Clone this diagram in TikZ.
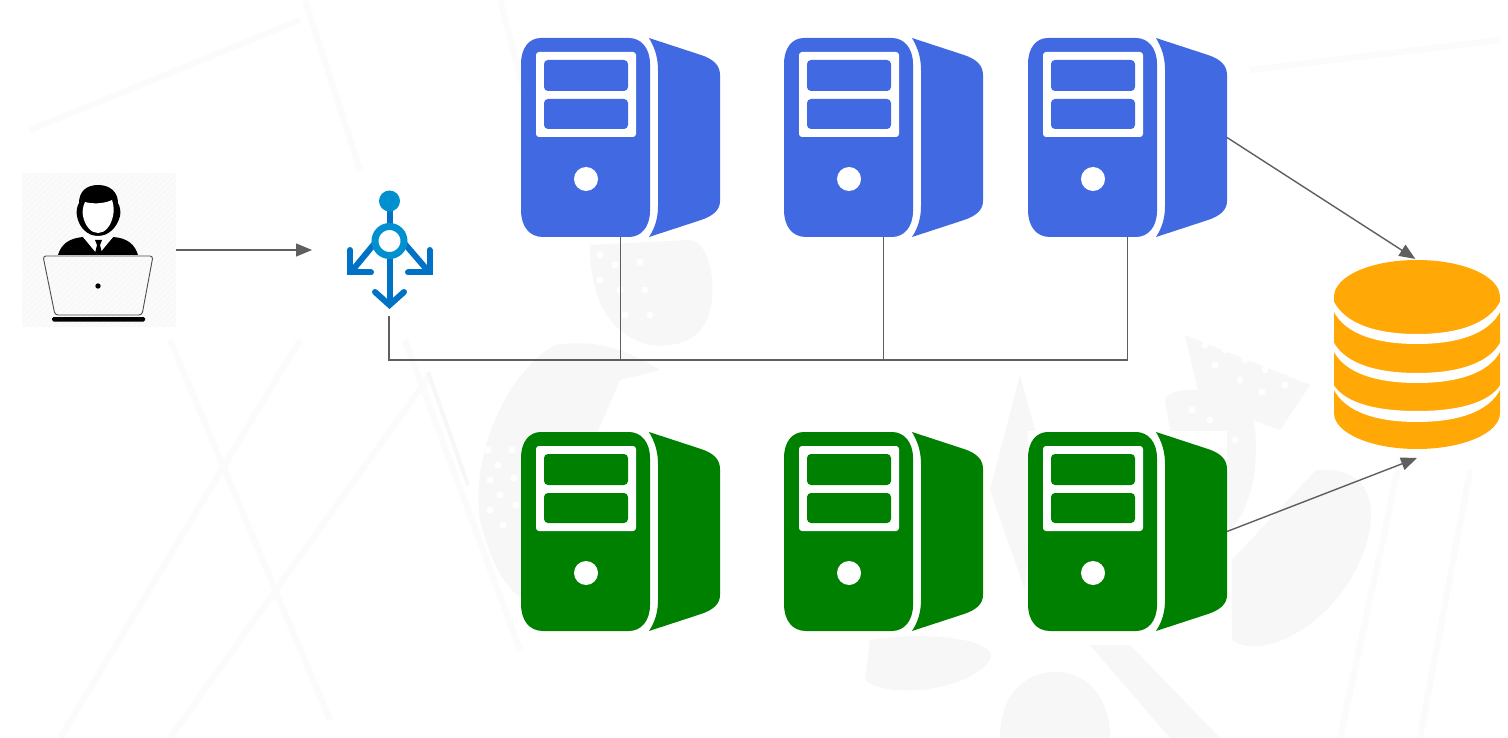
\documentclass[tikz,border=0pt]{standalone}
\usetikzlibrary{arrows.meta}
\definecolor{srvblue}{HTML}{4169E1}
\definecolor{srvgreen}{HTML}{008000}
\definecolor{dbor}{HTML}{FFA806}
\definecolor{wire}{HTML}{5F5F5F}
\definecolor{lbdark}{HTML}{0072C6}
\definecolor{lblight}{HTML}{0090D0}
\definecolor{ghost}{HTML}{F7F7F7}
\definecolor{ghostb}{HTML}{FBFBFB}
\tikzset{
  srvbox/.style={minimum width=199pt,minimum height=199pt,inner sep=0pt,outer sep=0pt},
  pics/server/.style={code={
    \fill[#1] (20,0) -- (108,0) .. controls (120,0) and (129,10) .. (129,26)
      -- (129,173) .. controls (129,189) and (120,199) .. (108,199) -- (22,199)
      .. controls (8,199) and (0,188) .. (0,172) -- (0,26) .. controls (0,10) and (8,0) .. (20,0) -- cycle;
    \fill[#1] (128,0) -- (180,17) .. controls (192,21) and (199,27) .. (199,37)
      -- (199,163) .. controls (199,172) and (192,178) .. (180,182) -- (128,199)
      .. controls (134,190) and (137,180) .. (137,168) -- (137,32)
      .. controls (137,20) and (134,10) .. (128,0) -- cycle;
    \fill[white,rounded corners=3pt] (15,14) rectangle (115,99);
    \fill[#1,rounded corners=4pt] (23,22) rectangle (107,53);
    \fill[#1,rounded corners=4pt] (23,61) rectangle (107,91);
    \fill[white] (65,141) circle (12pt);
  }},
  conn/.style={draw=wire,line width=1.4pt,-{Triangle[length=16pt,width=13pt]}},
  wirev/.style={draw=wire,line width=1.5pt},
  wireb/.style={draw=wire,line width=2.4pt},
  ghostl/.style={draw=ghostb,line width=6pt},
  ghostd/.style={fill=ghost},
}
\begin{document}
\begin{tikzpicture}[x=1pt,y=-1pt]
\useasboundingbox (0,0) rectangle (1508,738);
\fill[white] (0,0) rectangle (1508,738);
% faint watermark
\draw[ghostl] (305,0) -- (360,170);
\draw[ghostl] (405,340) -- (520,650);
\draw[ghostl] (170,340) -- (330,720);
\draw[ghostl] (300,340) -- (60,738);
\draw[ghostl] (430,375) -- (170,738);
\draw[ghostl] (30,130) -- (300,20);
\draw[ghostl] (500,0) -- (545,170);
\draw[ghostl] (1250,70) -- (1500,40);
\draw[ghostl] (1400,460) -- (1340,738);
\draw[ghostl] (1470,470) -- (1420,738);
\draw[ghost,line width=4pt] (428,372) -- (468,485);
\fill[ghostd] (555,345) .. controls (510,370) and (470,450) .. (480,520) .. controls (490,560) and (505,590) .. (525,600) -- (620,380) -- (660,370) .. controls (620,345) and (590,340) .. (555,345) -- cycle;
\fill[ghostd] (590,245) .. controls (590,300) and (610,335) .. (650,345) .. controls (700,350) and (715,320) .. (712,280) .. controls (710,255) and (700,240) .. (690,240) -- cycle;
\fill[ghostd] (1165,400) .. controls (1170,385) and (1220,385) .. (1250,410) .. controls (1260,430) and (1260,500) .. (1230,530) -- (1170,430) -- cycle;
\fill[ghostd] (1185,335) -- (1310,385) -- (1280,430) -- (1200,400) -- cycle;
\fill[ghostd] (1020,375) -- (1035,430) -- (1025,590) -- (990,490) -- cycle;
\fill[ghostd] (1316,470) .. controls (1385,465) and (1380,530) .. (1350,580) .. controls (1320,630) and (1260,660) .. (1232,640) -- (1232,560) -- cycle;
\fill[ghostd] (1000,738) .. controls (1000,690) and (1030,670) .. (1060,672) .. controls (1090,675) and (1110,700) .. (1110,738) -- cycle;
\fill[ghostd] (1090,645) -- (1130,645) -- (1220,738) -- (1170,738) -- cycle;
\fill[ghostd] (870,640) .. controls (930,630) and (1000,640) .. (990,660) .. controls (970,690) and (890,700) .. (865,680) -- cycle;
\foreach \px/\py in {488/450,498/465,490/480,500/495,490/510,503/525,512/450,514/478,516/505,600/255,615/265,600/280,620/290,640/262,645/290,625/315,650/315,1205/345,1225/350,1245/360,1265/370,1285/385,1215/365,1240/380,1262/392,1192/410,1210/420,1205/445,1225/470,1215/500,1235/440}{
  \fill[white] (\px,\py) circle (3.5pt);
}
% white patch behind the last green server
\fill[white] (1028,431) rectangle (1227,631);
% user
\node[minimum width=154pt,minimum height=154pt,inner sep=0pt,outer sep=0pt,fill=ghostb] (user) at (99,250) {};
\begin{scope}
\clip (user.north west) rectangle (user.south east);
\foreach \k in {0,6,...,320}{\draw[ghost,line width=1pt] (22+\k-160,327) -- (22+\k,173);}
\end{scope}
\fill[black] (98,185) .. controls (110,185) and (118,192) .. (118,203) .. controls (120,206) and (121,212) .. (120,216) .. controls (117,228) and (108,236) .. (98,236) .. controls (88,236) and (79,228) .. (77,216) .. controls (76,212) and (77,206) .. (79,203) .. controls (79,192) and (86,185) .. (98,185) -- cycle;
\fill[white] (85,202) .. controls (92,204) and (104,204) .. (112,200) .. controls (114,205) and (114,212) .. (113,216) .. controls (111,226) and (105,233) .. (98,233) .. controls (91,233) and (85,226) .. (83,216) .. controls (82,212) and (83,206) .. (85,202) -- cycle;
\fill[black] (58,255) .. controls (61,245) and (68,238) .. (84,237) -- (98,253) -- (113,237) .. controls (128,238) and (135,245) .. (138,255) -- cycle;
\fill[white] (83,237) -- (91,236) -- (105,236) -- (113,237) -- (99,254) -- (97,254) -- cycle;
\fill[black] (95,240) -- (102,240) -- (100,245) -- (102,253) -- (99,255) -- (95,253) -- (97,245) -- cycle;
\draw[black!70,line width=.9pt,rounded corners=3pt] (43,256) -- (153,256) -- (142,315) -- (55,315) -- cycle;
\fill[black,rounded corners=1.5pt] (52,317) rectangle (145,321.5);
\fill[black] (98,286) circle (2.7pt);
% load balancer
\node[minimum width=154pt,minimum height=132pt,inner sep=0pt,outer sep=0pt] (lb) at (389,250) {};
\begin{scope}[line cap=round,draw=lbdark,line width=6pt]
\draw[line cap=butt] (389.5,205) -- (389.5,304);
\draw[line join=miter,line cap=round] (375,292) -- (389.5,305) -- (404,292);
\draw[line cap=butt] (375,243) -- (351,272);
\draw[line cap=butt] (404,243) -- (429,272);
\draw[line join=miter] (350,250) -- (350,272.5) -- (371,272.5);
\draw[line join=miter] (429.5,250) -- (429.5,272.5) -- (408,272.5);
\end{scope}
\fill[lblight] (389.5,201) circle (10.5pt);
\fill[white] (389.5,241) circle (14pt);
\draw[lblight,line width=7pt] (389.5,241) circle (14.5pt);
% servers
\node[srvbox] (s1) at (620.5,137.5) {};
\node[srvbox] (s2) at (883.5,137.5) {};
\node[srvbox] (s3) at (1127.5,137.5) {};
\node[srvbox] (g1) at (620.5,531.5) {};
\node[srvbox] (g2) at (883.5,531.5) {};
\node[srvbox] (g3) at (1127.5,531.5) {};
\pic at (s1.north west) {server=srvblue};
\pic at (s2.north west) {server=srvblue};
\pic at (s3.north west) {server=srvblue};
\pic at (g1.north west) {server=srvgreen};
\pic at (g2.north west) {server=srvgreen};
\pic at (g3.north west) {server=srvgreen};
% database
\node[minimum width=166pt,minimum height=198pt,inner sep=0pt,outer sep=0pt] (db) at (1417,359) {};
\fill[dbor] (1334,297) .. controls (1334,276) and (1371,260) .. (1417,260) .. controls (1463,260) and (1500,276) .. (1500,297) -- (1500,413) .. controls (1500,433) and (1463,449) .. (1417,449) .. controls (1371,449) and (1334,433) .. (1334,413) -- cycle;
\foreach \ya/\yb/\da/\db in {300/310/34/34,341/350/32/33,384/388/27/34}{
  \fill[white] (1333,\ya) .. controls (1345,\ya+0.75*\da) and (1380,\ya+\da) .. (1417,\ya+\da) .. controls (1454,\ya+\da) and (1489,\ya+0.75*\da) .. (1501,\ya)
    -- (1501,\yb) .. controls (1489,\yb+0.75*\db) and (1454,\yb+\db) .. (1417,\yb+\db) .. controls (1380,\yb+\db) and (1345,\yb+0.75*\db) .. (1333,\yb) -- cycle;
}
% connectors
\coordinate (busend) at (1127.5,360);
\draw[wireb] (lb.south) |- (busend);
\draw[wirev] (s1.south) -- (s1.south |- busend);
\draw[wirev] (s2.south) -- (s2.south |- busend);
\draw[wirev] (s3.south) -- (busend);
\draw[conn] (user.east) -- (lb.west);
\draw[conn,shorten >=2pt] (s3.east) -- (db.north);
\draw[conn] (g3.east) -- (db.south);
\end{tikzpicture}
\end{document}
